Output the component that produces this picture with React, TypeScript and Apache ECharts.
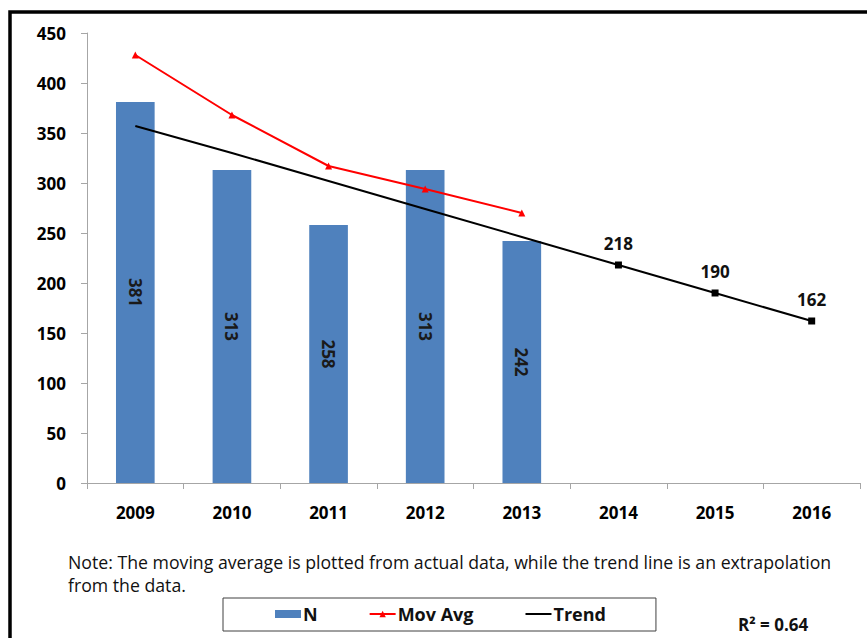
import React, { useEffect, useRef } from "react";
import * as echarts from "echarts";

const years = ["2009", "2010", "2011", "2012", "2013", "2014", "2015", "2016"];
const nValues: (number | null)[] = [381, 313, 258, 313, 242, null, null, null];
const movAvgValues: (number | null)[] = [428, 368, 317, 294, 270, null, null, null];
const trendValues: number[] = [357, 330, 302, 274, 246, 218, 190, 162];
const yTicks = { min: 0, max: 450, interval: 50 };
const noteText =
  "Note: The moving average is plotted from actual data, while the trend line is an extrapolation\nfrom the data.";
const r2Text = "R\u00B2 = 0.64";

const FONT = "'Open Sans', 'Noto Sans', sans-serif";

export default function App() {
  const ref = useRef<HTMLDivElement>(null);
  useEffect(() => {
    if (!ref.current) return;
    const chart = echarts.init(ref.current, null, { renderer: "svg" });
    const axisGray = "#a6a6a6";
    chart.setOption({
      animation: false,
      backgroundColor: "#ffffff",
      textStyle: { fontFamily: FONT },
      grid: { left: 87, right: 7, top: 33, bottom: 155, containLabel: false },
      legend: {
        left: 223,
        top: 598,
        orient: "horizontal",
        borderColor: "#404040",
        borderWidth: 1,
        padding: [7, 50, 8, 52],
        itemGap: 51,
        itemWidth: 26,
        itemHeight: 8,
        textStyle: { fontFamily: FONT, fontWeight: "bold", fontSize: 18, color: "#111", padding: [0, 0, 0, -3] },
        data: [
          { name: "N", icon: "rect" },
          { name: "Mov Avg" },
          { name: "Trend", itemStyle: { opacity: 0 } },
        ],
      },
      xAxis: {
        type: "category",
        data: years,
        boundaryGap: true,
        axisLine: { lineStyle: { color: axisGray, width: 1 } },
        axisTick: { show: true, length: 6, lineStyle: { color: axisGray } },
        axisLabel: { margin: 21, fontFamily: FONT, fontWeight: "bold", fontSize: 17, color: "#000" },
      },
      yAxis: {
        type: "value",
        min: yTicks.min,
        max: yTicks.max,
        interval: yTicks.interval,
        splitLine: { show: false },
        axisLine: { show: true, lineStyle: { color: axisGray, width: 1 } },
        axisTick: { show: true, length: 6, lineStyle: { color: axisGray } },
        axisLabel: { margin: 21, fontFamily: FONT, fontWeight: "bold", fontSize: 17, color: "#000" },
      },
      series: [
        {
          name: "N",
          type: "bar",
          data: nValues,
          barWidth: "40%",
          itemStyle: { color: "#4F81BD" },
          label: {
            show: true,
            position: "inside",
            rotate: -90,
            fontFamily: FONT,
            fontWeight: "bold",
            fontSize: 17,
            color: "#1a1a1a",
          },
        },
        {
          name: "Mov Avg",
          type: "line",
          data: movAvgValues,
          symbol: "triangle",
          symbolSize: 7,
          showSymbol: true,
          lineStyle: { color: "#ff0000", width: 2 },
          itemStyle: { color: "#ff0000" },
          z: 3,
        },
        {
          name: "Trend",
          type: "line",
          symbol: "none",
          data: trendValues.map((v, i) =>
            nValues[i] == null
              ? {
                  value: v,
                  symbol: "rect",
                  symbolSize: 7,
                  label: {
                    show: true,
                    position: "top",
                    distance: 10,
                    fontFamily: FONT,
                    fontWeight: "bold",
                    fontSize: 17,
                    color: "#111",
                  },
                }
              : { value: v, symbol: "none" }
          ),
          showAllSymbol: true,
          lineStyle: { color: "#000000", width: 2 },
          itemStyle: { color: "#000000" },
          z: 4,
        },
      ],
      graphic: [
        {
          type: "rect",
          shape: { x: 10, y: 12, width: 900, height: 700 },
          style: { fill: "none", stroke: "#000", lineWidth: 3.5 },
          silent: true,
        },
        {
          type: "text",
          left: 68,
          top: 550,
          style: {
            text: noteText,
            fontFamily: FONT,
            fontSize: 17.7,
            lineHeight: 23,
            fill: "#111",
          },
        },
        {
          type: "text",
          left: 738,
          top: 616,
          style: {
            text: r2Text,
            fontFamily: FONT,
            fontWeight: "bold",
            fontSize: 17,
            fill: "#111",
          },
        },
      ],
    });
    return () => chart.dispose();
  }, []);
  return (
    <div
      ref={ref}
      style={{ position: "fixed", left: 0, top: 0, width: 867, height: 638, background: "#fff" }}
    />
  );
}
